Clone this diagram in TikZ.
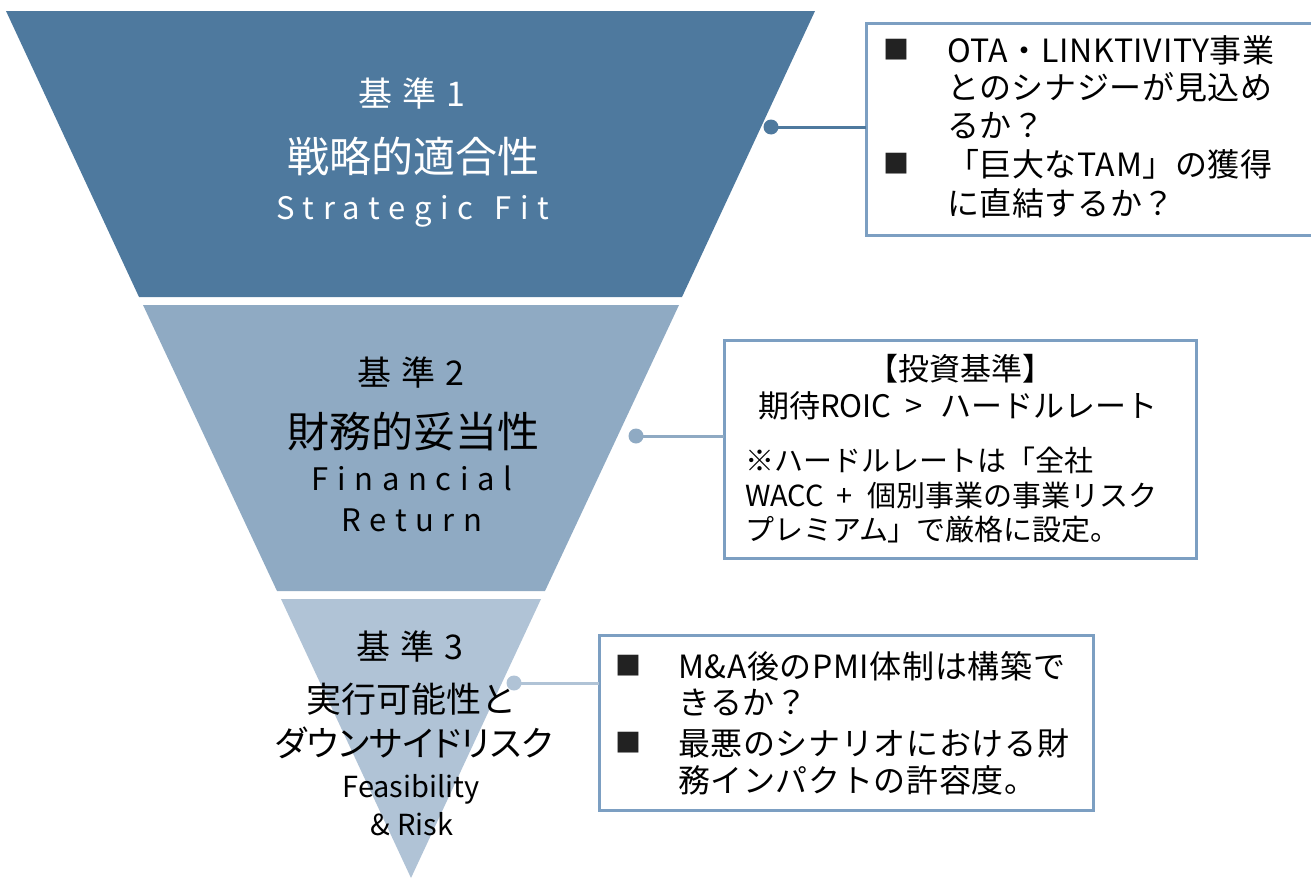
\documentclass[tikz,border=0pt]{standalone}
\usepackage{fontspec}
\setmainfont{Noto Sans CJK JP}
\newfontfamily\jpprop[RawFeature=+palt]{Noto Sans CJK JP}
\definecolor{segA}{RGB}{78,121,158}
\definecolor{segB}{RGB}{143,170,195}
\definecolor{segC}{RGB}{176,195,214}
\definecolor{boxline}{RGB}{124,159,194}
\definecolor{bulletc}{RGB}{34,34,34}
\tikzset{
  jt/.style={font=\fontsize{#1}{#1}\selectfont, inner sep=0pt, outer sep=0pt, text height={0.88*#1}, text depth={0.12*#1}},
  bt/.style={jt=32, anchor=west},
  infobox/.style={draw=boxline, line width=3pt, fill=white, anchor=north west, inner sep=0pt, outer sep=0pt},
  bul/.style={jt=26, text=bulletc, anchor=center},
  conn/.style={line width=3pt, draw=#1},
}
\begin{document}
\begin{tikzpicture}[x=1pt,y=-1pt]
\useasboundingbox (0,0) rectangle (1311,878);
\clip (0,0) rectangle (1311,878);
% funnel segments
\fill[segA] (6,11) -- (815,11) -- (682,297) -- (139,297) -- cycle;
\fill[segB] (143,305) -- (679,305) -- (545,591) -- (277,591) -- cycle;
\fill[segC] (281,599) -- (541,599) -- (411,878) -- cycle;

% segment 1 texts
\node[jt=34, text=white] (s1a) at (412,94) {\addfontfeature{LetterSpace=30}基準1};
\node[jt=42, text=white] (s1b) at (413,157) {戦略的適合性};
\node[jt=31, text=white] (s1c) at (413,208) {\addfontfeature{LetterSpace=28}Strategic\hspace{6pt} Fit};
% segment 2 texts
\node[jt=34] (s2a) at (411,373) {\addfontfeature{LetterSpace=30}基準2};
\node[jt=42] (s2b) at (413,432) {財務的妥当性};
\node[jt=31] (s2c) at (412,479) {\addfontfeature{LetterSpace=28}Financial};
\node[jt=31] (s2d) at (412,520) {\addfontfeature{LetterSpace=28}Return};
% segment 3 texts
\node[jt=34] (s3a) at (410,647) {\addfontfeature{LetterSpace=30}基準3};
\node[jt=35] (s3b) at (411,699) {実行可能性と};
\node[jt=35] (s3c) at (414,743) {\jpprop ダウンサイドリスク};
\node[jt=29] (s3d) at (411,786) {Feasibility};
\node[jt=29] (s3e) at (412,824) {\& Risk};

% info boxes
\node[infobox, minimum width=456pt, minimum height=212pt] (b1) at (866,23) {};
\node[infobox, minimum width=472pt, minimum height=218pt] (b2) at (724,340) {};
\node[infobox, minimum width=494pt, minimum height=175pt] (b3) at (599,635) {};

% connectors
\coordinate (d1) at (771,127);
\coordinate (d2) at (636,436);
\coordinate (d3) at (514,683);
\draw[conn=segA] (d1) -- (d1 -| b1.west);
\draw[conn=segB] (d2) -- (d2 -| b2.west);
\draw[conn=segC] (d3) -- (d3 -| b3.west);
\fill[segA] (d1) circle (7.5);
\fill[segB] (d2) circle (7.5);
\fill[segC] (d3) circle (7.5);

% box 1 text
\node[bul] (k1) at (896,50) {■};
\node[bul] (k2) at (896,164) {■};
\node[bt] (t11) at (947,50) {\addfontfeature{LetterSpace=2}OTA・LINKTIVITY事業};
\node[bt] (t12) at (947,87) {\addfontfeature{LetterSpace=2}とのシナジーが見込め};
\node[bt] (t13) at (947,125) {\addfontfeature{LetterSpace=2}るか？};
\node[bt] (t14) at (947,164) {\addfontfeature{LetterSpace=2}「巨大なTAM」の獲得};
\node[bt] (t15) at (947,203) {\addfontfeature{LetterSpace=2}に直結するか？};

% box 2 text
\node[jt=31] (t21) at (960,369) {【投資基準】};
\node[jt=31] (t22) at (958,406) {期待ROIC\hspace{14pt}>\hspace{18pt}ハードルレート};
\node[jt=29, anchor=west] (t23) at (745,460) {※ハードルレートは「全社};
\node[jt=29, anchor=west] (t24) at (745,495) {WACC\hspace{13pt}+\hspace{15pt}個別事業の事業リスク};
\node[jt=29, anchor=west] (t25) at (745,529) {プレミアム」で厳格に設定。};

% box 3 text
\node[bul] (k3) at (628,666) {■};
\node[bul] (k4) at (628,743) {■};
\node[bt] (t31) at (678,666) {\addfontfeature{LetterSpace=2}M\&A後のPMI体制は構築で};
\node[bt] (t32) at (678,702) {\addfontfeature{LetterSpace=2}きるか？};
\node[bt] (t33) at (678,743) {\addfontfeature{LetterSpace=2}最悪のシナリオにおける財};
\node[bt] (t34) at (678,780) {\addfontfeature{LetterSpace=2}務インパクトの許容度。};
\end{tikzpicture}
\end{document}
